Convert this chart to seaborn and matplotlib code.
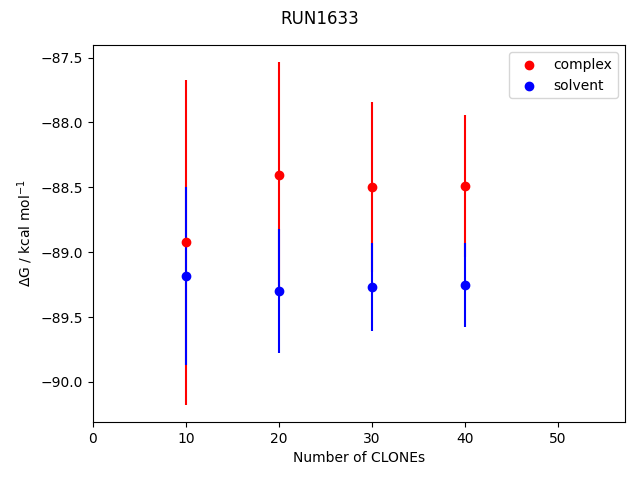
import numpy as np
import pandas as pd
import matplotlib
matplotlib.use("Agg")
import matplotlib.pyplot as plt
import seaborn as sns

# Free energies per number of clones
n_clones = [10, 20, 30, 40]
complex_dg = [-88.923, -88.408, -88.500, -88.492]
complex_err = [1.253, 0.872, 0.656, 0.548]
solvent_dg = [-89.185, -89.300, -89.269, -89.254]
solvent_err = [0.686, 0.478, 0.340, 0.325]

colors = {"complex": "red", "solvent": "blue"}

df = pd.DataFrame({
    "clones": n_clones * 2,
    "dg": complex_dg + solvent_dg,
    "err": complex_err + solvent_err,
    "phase": ["complex"] * len(n_clones) + ["solvent"] * len(n_clones),
})

fig, ax = plt.subplots(figsize=(6.4, 4.8), dpi=100)

# error bars first so the points sit on top
for phase, sub in df.groupby("phase"):
    ax.errorbar(sub["clones"], sub["dg"], yerr=sub["err"], fmt="none",
                ecolor=colors[phase], elinewidth=1.5, zorder=2)

for phase, sub in df.groupby("phase"):
    sns.scatterplot(data=sub, x="clones", y="dg", color=colors[phase],
                    s=36, edgecolor="face", linewidth=1.0, label=phase,
                    ax=ax, zorder=3)

ax.legend(loc="upper right")

ax.set_xlim(0, 57.2)
ax.set_xlabel("Number of CLONEs")
ax.set_ylabel(r"$\Delta$G / kcal mol$^{-1}$")
fig.suptitle("RUN1633")

fig.subplots_adjust(left=0.1453, right=0.9766, top=0.906, bottom=0.121)
plt.savefig("out.png", dpi=100)
plt.close()
